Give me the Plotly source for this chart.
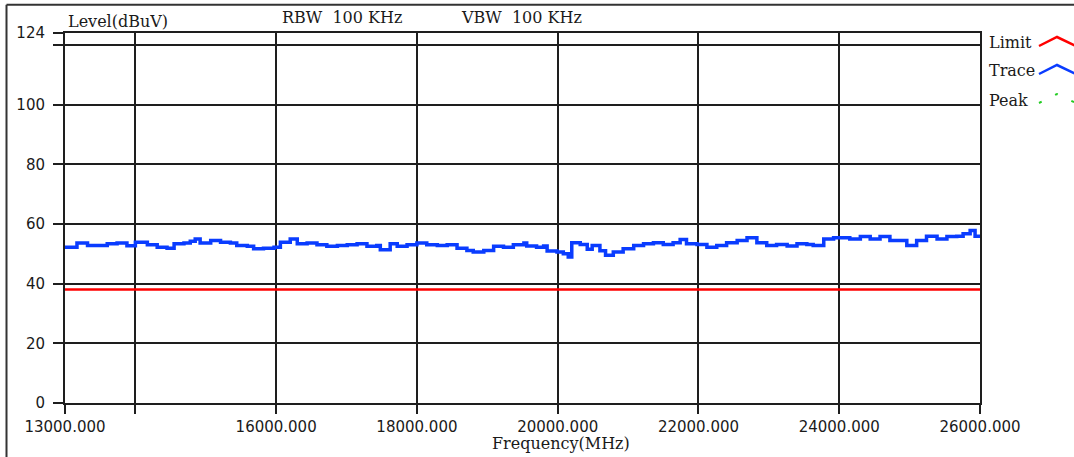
import plotly.graph_objects as go

# Measured spectrum trace (frequency in MHz, level in dBuV)
trace_freq = [
    13000, 13170, 13320, 13460, 13600, 13740, 13880, 14000, 14170, 14310,
    14450, 14550, 14690, 14780, 14850, 14920, 15070, 15210, 15350, 15440,
    15590, 15680, 15820, 15970, 16060, 16200, 16300, 16440, 16580, 16720,
    16870, 17010, 17150, 17290, 17430, 17480, 17620, 17720, 17860, 18000,
    18140, 18290, 18430, 18570, 18710, 18800, 18950, 19090, 19230, 19370,
    19520, 19560, 19700, 19800, 19850, 19990, 20080, 20150, 20200, 20320,
    20420, 20490, 20600, 20680, 20790, 20930, 21080, 21220, 21360, 21500,
    21640, 21740, 21830, 21980, 22120, 22260, 22400, 22550, 22690, 22830,
    22970, 23110, 23260, 23400, 23540, 23630, 23780, 23920, 24010, 24150,
    24300, 24440, 24580, 24720, 24860, 24960, 25100, 25240, 25390, 25530,
    25670, 25760, 25860, 25930, 26000,
]
trace_level = [
    52.2, 53.6, 52.8, 52.8, 53.4, 53.6, 52.7, 53.9, 53.0, 52.2,
    51.9, 53.4, 53.6, 54.2, 55.0, 53.6, 54.5, 53.9, 53.6, 52.8,
    52.5, 51.7, 51.9, 52.2, 53.9, 55.0, 53.4, 53.6, 53.0, 52.5,
    52.8, 53.0, 53.4, 52.5, 52.8, 51.4, 53.4, 52.5, 53.0, 53.6,
    53.0, 52.8, 53.0, 51.9, 51.1, 50.6, 51.1, 52.5, 52.2, 53.0,
    53.6, 52.6, 52.2, 52.6, 50.9, 50.6, 50.0, 48.9, 53.7, 53.1,
    51.5, 52.8, 51.0, 49.5, 50.6, 51.7, 52.8, 53.4, 53.7, 53.1,
    53.7, 54.8, 53.4, 53.1, 52.2, 52.8, 53.7, 54.5, 55.4, 53.7,
    52.8, 53.1, 52.6, 53.4, 53.1, 52.8, 55.0, 55.4, 55.4, 55.0,
    55.8, 55.0, 55.8, 54.5, 54.5, 52.8, 54.5, 55.9, 55.0, 55.8,
    55.9, 56.7, 57.8, 55.9, 56.4,
]

# Limit line
limit_freq = [13000, 26000]
limit_level = [38, 38]

# Axis ticks
x_tickvals = [13000, 14000, 16000, 18000, 20000, 22000, 24000, 26000]
x_ticktext = ["13000.000", "", "16000.000", "18000.000", "20000.000",
              "22000.000", "24000.000", "26000.000"]
y_tickvals = [0, 20, 40, 60, 80, 100, 120, 124]
y_ticktext = ["0", "20", "40", "60", "80", "100", "", "124"]

legend_names = ["Limit", "Trace", "Peak"]
legend_colors = ["#ff0000", "#0a3cff", "#22cc22"]

W, H = 1074, 457
ML, MR, MT, MB = 65, 94, 33, 54
PW, PH = W - ML - MR, H - MT - MB


def px(x):
    return (x - ML) / PW


def py(y):
    return (H - MB - y) / PH


serif = "DejaVu Serif"
ink = "#1a1a1a"

fig = go.Figure()
fig.add_trace(go.Scatter(
    x=limit_freq, y=limit_level, mode="lines", name="Limit",
    line=dict(color="#ff0000", width=2.5), showlegend=False,
))
fig.add_trace(go.Scatter(
    x=trace_freq, y=trace_level, mode="lines", name="Trace",
    line=dict(color="#0a3cff", width=3.5, shape="hv"), showlegend=False,
))

frame = dict(color="#333333", width=2)
shapes = [
    # top and left edges of the report panel frame
    dict(type="line", xref="paper", yref="paper",
         x0=px(6.5), x1=px(W + 50), y0=py(4.7), y1=py(4.7), line=frame),
    dict(type="line", xref="paper", yref="paper",
         x0=px(6.5), x1=px(6.5), y0=py(4.7), y1=py(H + 50), line=frame),
]

# legend glyphs: small tent-shaped line samples beside each label
legend_rows = [43, 71, 100]
for name, color, yc in zip(legend_names, legend_colors, legend_rows):
    path = "M {:.5f},{:.5f} L {:.5f},{:.5f} L {:.5f},{:.5f}".format(
        px(1039), py(yc + 3), px(1057), py(yc - 6), px(1078), py(yc + 4))
    line = dict(color=color, width=2.5)
    if name == "Peak":
        line = dict(color=color, width=2, dash="3px,15px")
    shapes.append(dict(type="path", xref="paper", yref="paper",
                       path=path, line=line))

annotations = [
    dict(text="Level(dBuV)", x=px(66), y=py(33), xanchor="left",
         yanchor="bottom", font=dict(family=serif, size=16, color=ink)),
    dict(text="RBW\u00a0\u00a0100\u00a0KHz", x=px(280), y=py(17),
         xanchor="left", yanchor="middle",
         font=dict(family=serif, size=16, color=ink)),
    dict(text="VBW\u00a0\u00a0100\u00a0KHz", x=px(459), y=py(17),
         xanchor="left", yanchor="middle",
         font=dict(family=serif, size=16, color=ink)),
    dict(text="Frequency(MHz)", x=px(561), y=py(443), xanchor="center",
         yanchor="middle", font=dict(family=serif, size=16, color=ink)),
]
for name, yc in zip(legend_names, legend_rows):
    annotations.append(dict(text=name, x=px(987), y=py(yc), xanchor="left",
                            yanchor="middle",
                            font=dict(family=serif, size=16, color=ink)))
for a in annotations:
    a.update(xref="paper", yref="paper", showarrow=False)

fig.update_layout(
    width=W, height=H,
    margin=dict(l=ML, r=MR, t=MT, b=MB, pad=0),
    paper_bgcolor="white", plot_bgcolor="white",
    shapes=shapes, annotations=annotations,
    showlegend=False,
)
fig.update_xaxes(
    range=[13000, 26000], tickvals=x_tickvals, ticktext=x_ticktext,
    showgrid=True, gridcolor="#1e1e1e", gridwidth=2,
    showline=True, linecolor="#1e1e1e", linewidth=2, mirror=True,
    ticks="outside", ticklen=9, tickwidth=1.5, tickcolor="#1e1e1e",
    tickfont=dict(family="DejaVu Sans", size=15, color=ink),
    zeroline=False,
)
fig.update_yaxes(
    range=[0, 124], tickvals=y_tickvals, ticktext=y_ticktext,
    showgrid=True, gridcolor="#1e1e1e", gridwidth=1.6,
    showline=True, linecolor="#1e1e1e", linewidth=2, mirror=True,
    ticks="outside", ticklen=10, tickwidth=1.5, tickcolor="#1e1e1e",
    tickfont=dict(family="DejaVu Sans", size=15, color=ink),
    ticklabelstandoff=5,
    zeroline=False,
)

fig.write_html("out.html")
